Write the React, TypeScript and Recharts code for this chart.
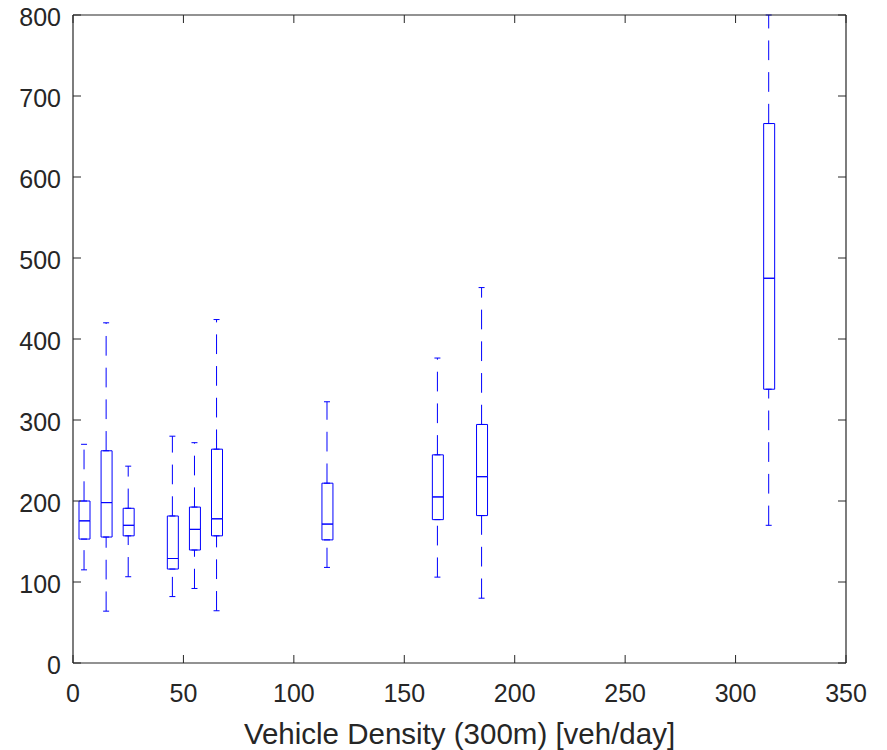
import React from 'react';
import {
  ComposedChart,
  Bar,
  Scatter,
  ErrorBar,
  XAxis,
  YAxis,
} from 'recharts';

// box positions (veh/day) and box statistics
const positions = [5, 15, 25, 45, 55, 65, 115, 165, 185, 315];
const whiskerLow = [115, 64, 106.5, 82, 92, 64.5, 118, 106, 80, 170];
const quartile1 = [153, 155.5, 157, 116, 139.5, 157, 152, 177, 182, 338];
const medians = [175.5, 198, 170, 129, 165, 178, 171.5, 205, 230, 475];
const quartile3 = [200, 262, 191, 181.5, 192.5, 264, 222, 257, 294.5, 666];
// last upper whisker runs off the top of the axes
const whiskerHigh = [270, 420, 243, 280, 272, 424, 322.5, 376.5, 463.5, 930];

const xTicks = [0, 50, 100, 150, 200, 250, 300, 350];
const yTicks = [0, 100, 200, 300, 400, 500, 600, 700, 800];

const AXIS = '#262626';
const BLUE = '#0000ff';
const FONT = '"Liberation Sans", Arial, Helvetica, sans-serif';
const TICK_LEN = 8;
const Y_MAX = yTicks[yTicks.length - 1];

const data = positions.map((x, i) => ({
  x,
  q1: quartile1[i],
  q3: quartile3[i],
  lowBox: medians[i] - quartile1[i],
  highBox: quartile3[i] - medians[i],
  lowErr: [quartile1[i] - whiskerLow[i], 0],
  // the axes clip the whisker at the top of the y range
  highErr: [0, Math.min(whiskerHigh[i], Y_MAX) - quartile3[i]],
}));

// ticks point inward, like a MATLAB axes box
const BottomTick = ({ x, y, payload }: any) => (
  <g>
    <line x1={x} y1={y} x2={x} y2={y - TICK_LEN} stroke={AXIS} strokeWidth={1} />
    <text x={x} y={y + 39} textAnchor="middle" fill={AXIS} fontSize={25} fontFamily={FONT}>
      {payload.value}
    </text>
  </g>
);

const LeftTick = ({ x, y, payload }: any) => (
  <g>
    <line x1={x} y1={y} x2={x + TICK_LEN} y2={y} stroke={AXIS} strokeWidth={1} />
    <text x={x - 12} y={y + 11} textAnchor="end" fill={AXIS} fontSize={25} fontFamily={FONT}>
      {payload.value}
    </text>
  </g>
);

const TopTick = ({ x, y }: any) => (
  <line x1={x} y1={y} x2={x} y2={y + TICK_LEN} stroke={AXIS} strokeWidth={1} />
);

const RightTick = ({ x, y }: any) => (
  <line x1={x} y1={y} x2={x - TICK_LEN} y2={y} stroke={AXIS} strokeWidth={1} />
);

const NoDot = () => <g />;

export default function App() {
  return (
    <div style={{ position: 'absolute', left: 0, top: 0, background: '#fff' }}>
      <ComposedChart
        width={887}
        height={750}
        data={data}
        margin={{ top: 14, right: 40, left: 0, bottom: 0 }}
      >
        <XAxis
          dataKey="x"
          type="number"
          domain={[0, 350]}
          ticks={xTicks}
          allowDataOverflow
          height={87}
          tickSize={0}
          tickMargin={0}
          tickLine={false}
          axisLine={{ stroke: AXIS, strokeWidth: 1.2 }}
          tick={<BottomTick />}
          interval={0}
          label={{
            value: 'Vehicle Density (300m) [veh/day]',
            position: 'insideBottom',
            offset: 6,
            fill: AXIS,
            fontSize: 29.5,
            fontFamily: FONT,
          }}
        />
        <XAxis
          xAxisId="top"
          dataKey="x"
          type="number"
          orientation="top"
          domain={[0, 350]}
          ticks={xTicks}
          allowDataOverflow
          height={1}
          tickSize={0}
          tickMargin={0}
          tickLine={false}
          axisLine={{ stroke: AXIS, strokeWidth: 1.2 }}
          tick={<TopTick />}
          interval={0}
        />
        <YAxis
          type="number"
          domain={[0, 800]}
          ticks={yTicks}
          allowDataOverflow
          width={73}
          tickSize={0}
          tickMargin={0}
          tickLine={false}
          axisLine={{ stroke: AXIS, strokeWidth: 1.2 }}
          tick={<LeftTick />}
          interval={0}
        />
        <YAxis
          yAxisId="right"
          type="number"
          orientation="right"
          domain={[0, 800]}
          ticks={yTicks}
          allowDataOverflow
          width={1}
          tickSize={0}
          tickMargin={0}
          tickLine={false}
          axisLine={{ stroke: AXIS, strokeWidth: 1.2 }}
          tick={<RightTick />}
          interval={0}
        />

        {/* boxes: invisible base up to Q1, then Q1-median and median-Q3 */}
        <Bar dataKey="q1" stackId="box" barSize={11} fill="none" stroke="none" isAnimationActive={false} />
        <Bar dataKey="lowBox" stackId="box" barSize={11} fill="none" stroke={BLUE} strokeWidth={1} isAnimationActive={false} />
        <Bar dataKey="highBox" stackId="box" barSize={11} fill="none" stroke={BLUE} strokeWidth={1} isAnimationActive={false} />

        {/* dashed whiskers with end caps */}
        <Scatter dataKey="q1" shape={<NoDot />} isAnimationActive={false}>
          <ErrorBar
            dataKey="lowErr"
            direction="y"
            width={3}
            stroke={BLUE}
            strokeWidth={1}
            strokeDasharray="19.7 12"
          />
        </Scatter>
        <Scatter dataKey="q3" shape={<NoDot />} isAnimationActive={false}>
          <ErrorBar
            dataKey="highErr"
            direction="y"
            width={3}
            stroke={BLUE}
            strokeWidth={1}
            strokeDasharray="19.7 12"
          />
        </Scatter>
      </ComposedChart>
    </div>
  );
}
